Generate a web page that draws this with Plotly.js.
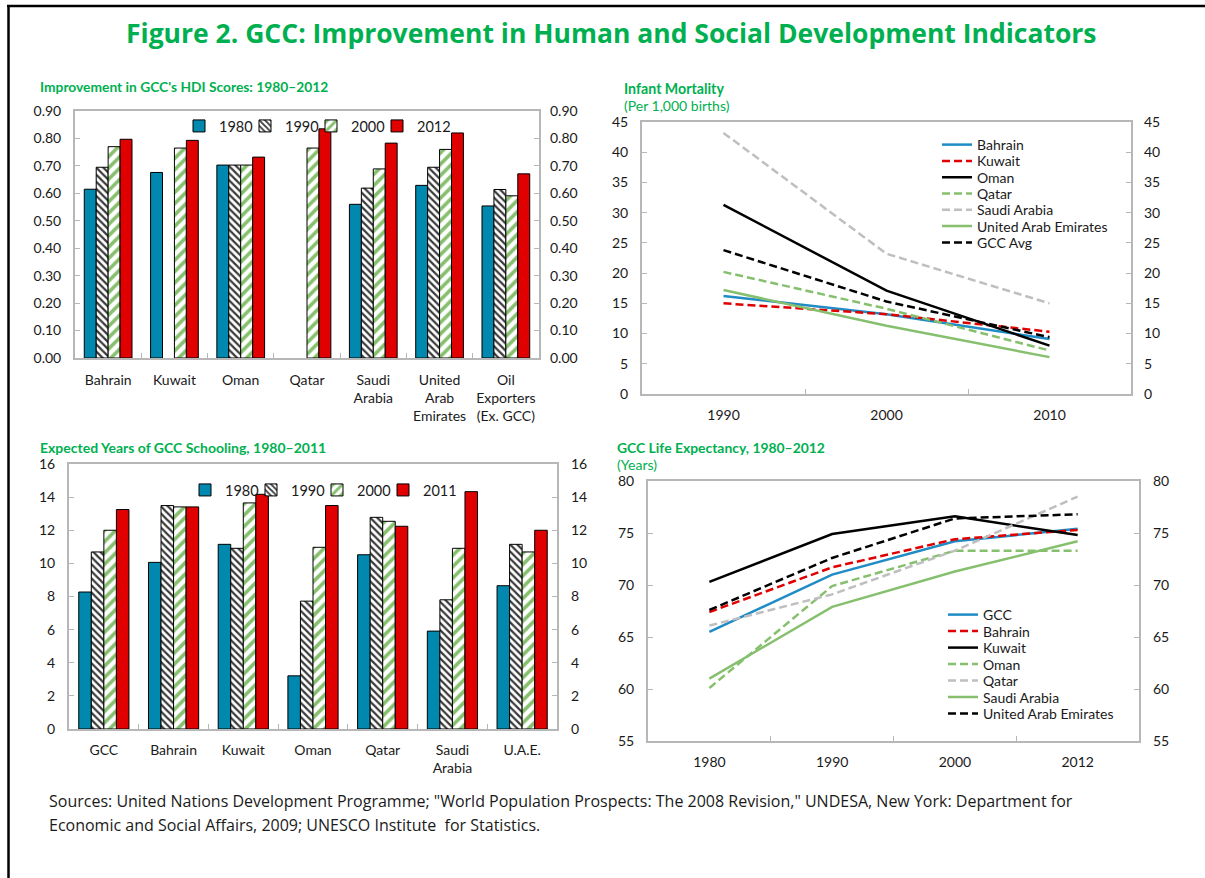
<!DOCTYPE html>
<html><head><meta charset="utf-8">
<script src="https://cdn.plot.ly/plotly-3.0.1.min.js"></script>
<style>html,body{margin:0;padding:0;background:#fff}#chart{width:1205px;height:878px}</style>
</head><body><div id="chart"></div>
<script>
// ---------- DATA ----------
const hdiCategories = ['Bahrain','Kuwait','Oman','Qatar','Saudi<br>Arabia','United<br>Arab<br>Emirates','Oil<br>Exporters<br>(Ex. GCC)'];
const hdiSeriesNames = ['1980','1990','2000','2012'];
const hdi1980 = [0.615, 0.676, 0.703, null, 0.560, 0.629, 0.554];
const hdi1990 = [0.695, null, 0.703, null, 0.619, 0.695, 0.614];
const hdi2000 = [0.770, 0.765, 0.703, 0.765, 0.689, 0.760, 0.591];
const hdi2012 = [0.797, 0.793, 0.732, 0.835, 0.783, 0.820, 0.671];

const mortYears = ['1990','2000','2010'];
const mortNames = ['Bahrain','Kuwait','Oman','Qatar','Saudi Arabia','United Arab Emirates','GCC Avg'];
const mortBahrain = [16.2, 13.2, 9.1];
const mortKuwait  = [15.0, 13.2, 10.3];
const mortOman    = [31.3, 17.1, 8.0];
const mortQatar   = [20.2, 14.1, 7.2];
const mortSaudi   = [43.2, 23.2, 15.0];
const mortUAE     = [17.2, 11.3, 6.1];
const mortGCC     = [23.8, 15.3, 9.4];

const schoolCategories = ['GCC','Bahrain','Kuwait','Oman','Qatar','Saudi<br>Arabia','U.A.E.'];
const schoolSeriesNames = ['1980','1990','2000','2011'];
const school1980 = [8.27, 10.06, 11.15, 3.21, 10.52, 5.91, 8.65];
const school1990 = [10.69, 13.49, 10.91, 7.72, 12.78, 7.80, 11.15];
const school2000 = [12.00, 13.41, 13.65, 10.97, 12.54, 10.91, 10.69];
const school2011 = [13.25, 13.41, 14.17, 13.49, 12.24, 14.33, 12.00];

const lifeYears = ['1980','1990','2000','2012'];
const lifeNames = ['GCC','Bahrain','Kuwait','Oman','Qatar','Saudi Arabia','United Arab Emirates'];
const lifeGCC     = [65.5, 71.0, 74.2, 75.4];
const lifeBahrain = [67.4, 71.7, 74.4, 75.3];
const lifeKuwait  = [70.3, 74.9, 76.6, 74.8];
const lifeOman    = [60.1, 69.9, 73.3, 73.3];
const lifeQatar   = [66.1, 69.1, 73.3, 78.5];
const lifeSaudi   = [61.0, 67.9, 71.3, 74.2];
const lifeUAE     = [67.6, 72.6, 76.4, 76.8];

// ---------- STYLE ----------
const W = 1205, H = 878;
const px = v => v / W;
const py = v => 1 - v / H;
const FONT = 'Lato, "Open Sans", sans-serif';
const GREEN = '#00b050';
const TEAL = '#0088ae';
const RED = '#e00000';
const LGREEN = '#86c06e';
const BLUE = '#1f8cc5';
const GRAY = '#bfbfbf';
const FRAME = '#b7b7b7';
const TXT = '#1a1a1a';

function barTraces(cats, vals, names, xa, ya, leg) {
  const styles = [
    {color: TEAL},
    {color: '#ffffff', pattern: {shape: '\\', fgcolor: '#3a3a3a', bgcolor: '#ffffff', size: 5, solidity: 0.45}},
    {color: '#ffffff', pattern: {shape: '/', fgcolor: LGREEN, bgcolor: '#ffffff', size: 8, solidity: 0.45}},
    {color: RED}
  ];
  return vals.map((v, i) => ({
    type: 'bar', x: cats, y: v, name: names[i], xaxis: xa, yaxis: ya, legend: leg,
    marker: Object.assign({line: {color: '#000', width: 1}}, styles[i]),
    hoverinfo: 'skip'
  }));
}
// each line series gets its own one-row legend so rows can sit at the reference spacing
function lineTraces(xs, vals, names, styles, xa, ya, legStart) {
  return vals.map((v, i) => ({
    type: 'scatter', mode: 'lines', x: xs, y: v, name: names[i], xaxis: xa, yaxis: ya,
    legend: 'legend' + (legStart + i),
    line: {color: styles[i][0], width: 2.5, dash: styles[i][1]}, hoverinfo: 'skip'
  }));
}
// invisible companion trace so the right-hand value axis is drawn
function axisHolder(xs, ys, xa, ya, leg) {
  return {type: 'scatter', mode: 'none', x: xs, y: ys, xaxis: xa, yaxis: ya, name: ' ',
    showlegend: !!leg, legend: leg || 'legend', hoverinfo: 'skip'};
}
const DASH = '8px,4px';
const lineStyles = [[BLUE,'solid'],[RED,DASH],['#000','solid'],[LGREEN,DASH],[GRAY,DASH],[LGREEN,'solid'],['#000',DASH]];
const MORT_LEG = 3, LIFE_LEG = 10;
const traces = [].concat(
  barTraces(hdiCategories, [hdi1980, hdi1990, hdi2000, hdi2012], hdiSeriesNames, 'x', 'y', 'legend'),
  lineTraces(mortYears, [mortBahrain, mortKuwait, mortOman, mortQatar, mortSaudi, mortUAE, mortGCC], mortNames,
    lineStyles, 'x2', 'y2', MORT_LEG),
  barTraces(schoolCategories, [school1980, school1990, school2000, school2011], schoolSeriesNames, 'x3', 'y3', 'legend2'),
  lineTraces(lifeYears, [lifeGCC, lifeBahrain, lifeKuwait, lifeOman, lifeQatar, lifeSaudi, lifeUAE], lifeNames,
    lineStyles, 'x4', 'y4', LIFE_LEG),
  [axisHolder(hdiCategories, hdi2012, 'x', 'y5', 'legend'),
   axisHolder(mortYears, mortGCC, 'x2', 'y6'),
   axisHolder(schoolCategories, school2011, 'x3', 'y7', 'legend2'),
   axisHolder(lifeYears, lifeGCC, 'x4', 'y8')]
);

const tickFont = {family: FONT, size: 14, color: TXT};
function xAxis(l, r, anchor, n, standoff) {
  return {domain: [px(l), px(r)], anchor: anchor, type: 'category', range: [-0.5, n - 0.5], tickangle: 0,
    showline: true, mirror: true, linecolor: FRAME, linewidth: 2, ticks: 'inside', tickson: 'boundaries',
    ticklen: 5, tickcolor: FRAME, tickwidth: 1, showgrid: false, zeroline: false, tickfont: tickFont,
    ticklabelstandoff: standoff, fixedrange: true};
}
function yAxis(t, b, anchor, range, dtick, fmt) {
  return {domain: [py(b), py(t)], anchor: anchor, range: range, dtick: dtick, tick0: range[0], tickformat: fmt,
    showline: true, mirror: true, linecolor: FRAME, linewidth: 2, ticks: 'inside', ticklen: 5, tickcolor: FRAME,
    tickwidth: 1, showgrid: false, zeroline: false, tickfont: tickFont, ticklabelstandoff: 9, fixedrange: true};
}
function yRight(over, anchor, range, dtick, fmt, standoff) {
  return {overlaying: over, anchor: anchor, side: 'right', range: range, dtick: dtick, tick0: range[0], tickformat: fmt,
    showline: false, ticks: 'inside', ticklen: 5, tickcolor: FRAME, tickwidth: 1, showgrid: false, zeroline: false,
    tickfont: tickFont, ticklabelstandoff: standoff, fixedrange: true};
}

function ann(text, x, y, size, bold, color, fam, anchor) {
  return {text: bold ? '<b>' + text + '</b>' : text, xref: 'paper', yref: 'paper', x: px(x), y: py(y),
    xanchor: anchor || 'left', yanchor: 'middle', showarrow: false,
    font: {family: fam || FONT, size: size, color: color || TXT}};
}

const legBase = {bgcolor: 'rgba(0,0,0,0)', borderwidth: 0, xanchor: 'left', yanchor: 'top',
  font: {family: FONT, size: 14, color: TXT}, traceorder: 'normal', tracegroupgap: 0};
const barLegFont = {family: FONT, size: 14.5, color: TXT};

const layout = {
  width: W, height: H, margin: {l: 0, r: 0, t: 0, b: 0}, paper_bgcolor: '#fff', plot_bgcolor: '#fff',
  showlegend: true, barmode: 'group', bargap: 0.28, bargroupgap: 0,
  font: {family: FONT},
  xaxis: xAxis(75, 539, 'y', hdiCategories.length, 8),
  yaxis: yAxis(111, 358, 'x', [0, 0.9], 0.1, '.2f'),
  xaxis2: xAxis(642, 1131, 'y2', mortYears.length, 7),
  yaxis2: yAxis(122, 394, 'x2', [0, 45], 5, 'd'),
  xaxis3: xAxis(69, 557, 'y3', schoolCategories.length, 7),
  yaxis3: yAxis(464, 729, 'x3', [0, 16], 2, 'd'),
  xaxis4: xAxis(648, 1139, 'y4', lifeYears.length, 7),
  yaxis4: yAxis(481, 741, 'x4', [55, 80], 5, 'd'),
  yaxis5: yRight('y', 'x', [0, 0.9], 0.1, '.2f', 10),
  yaxis6: yRight('y2', 'x2', [0, 45], 5, 'd', 12),
  yaxis7: yRight('y3', 'x3', [0, 16], 2, 'd', 13),
  yaxis8: yRight('y4', 'x4', [55, 80], 5, 'd', 13),
  legend: Object.assign({}, legBase, {orientation: 'h', x: px(179), y: py(110), entrywidth: 21, entrywidthmode: 'pixels', font: barLegFont}),
  legend2: Object.assign({}, legBase, {orientation: 'h', x: px(185), y: py(474), entrywidth: 21, entrywidthmode: 'pixels', font: barLegFont}),
  annotations: [
    ann('Figure 2. GCC: Improvement in Human and Social Development Indicators', 611, 33, 26.5, true, GREEN, '"Open Sans", sans-serif', 'center'),
    ann("Improvement in GCC's HDI Scores: 1980–2012", 38, 87, 13.8, true, GREEN),
    ann('Infant Mortality', 622, 88, 14.2, true, GREEN),
    ann('(Per 1,000 births)', 622, 106, 14, false, GREEN),
    ann('Expected Years of GCC Schooling, 1980–2011', 38, 447, 14, true, GREEN),
    ann('GCC Life Expectancy, 1980–2012', 615, 447, 13.9, true, GREEN),
    ann('(Years)', 615, 464, 14, false, GREEN),
    ann('Sources: United Nations Development Programme; "World Population Prospects: The 2008 Revision," UNDESA, New York: Department for', 47, 801, 16, false, TXT, '"Open Sans", sans-serif'),
    ann('Economic and Social Affairs, 2009; UNESCO Institute  for Statistics.', 47, 825, 16, false, TXT, '"Open Sans", sans-serif')
  ],
  shapes: [
    {type: 'line', xref: 'paper', yref: 'paper', x0: px(8.5), x1: px(8.5), y0: py(5), y1: py(900), line: {color: '#000', width: 2.5}},
    {type: 'line', xref: 'paper', yref: 'paper', x0: px(7), x1: px(1230), y0: py(6), y1: py(6), line: {color: '#000', width: 2.5}}
  ]
};
// one-row legends for the line panels
mortNames.forEach((n, i) => {
  layout['legend' + (MORT_LEG + i)] = Object.assign({}, legBase, {x: px(937), y: py(145 + i * 16.3), yanchor: 'middle'});
});
lifeNames.forEach((n, i) => {
  layout['legend' + (LIFE_LEG + i)] = Object.assign({}, legBase, {x: px(943), y: py(615 + i * 16.5), yanchor: 'middle'});
});

Plotly.newPlot('chart', traces, layout, {staticPlot: true, displayModeBar: false});
</script></body></html>
